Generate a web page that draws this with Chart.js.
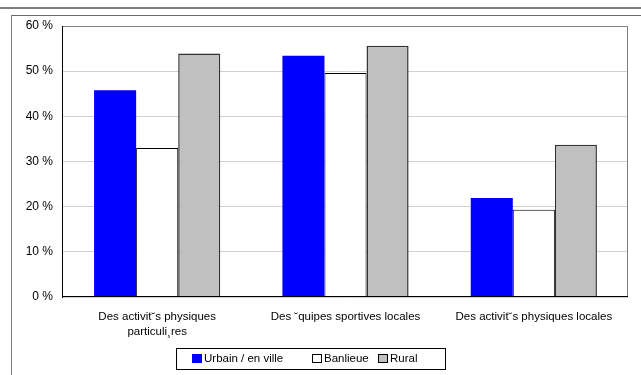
<!DOCTYPE html>
<html>
<head>
<meta charset="utf-8">
<script src="https://cdn.jsdelivr.net/npm/chart.js@4/dist/chart.umd.min.js"></script>
<style>
    body { margin: 0; background: #fff; }
    canvas { display: block; }
</style>
</head>
<body>
<canvas id="chart" width="641" height="375"></canvas>
<script>
const categories = [
    ['Des activit˘s physiques', 'particuli¸res'],
    'Des ˘quipes sportives locales',
    'Des activit˘s physiques locales'
];
const seriesNames = ['Urbain / en ville', 'Banlieue', 'Rural'];
const urbain = [45.8, 53.4, 21.9];
const banlieue = [33.0, 49.6, 19.3];
const rural = [53.9, 55.6, 33.7];
const yTicks = [0, 10, 20, 30, 40, 50, 60];

const FONT = '"Liberation Sans", Arial, sans-serif';
Chart.defaults.font.family = FONT;
Chart.defaults.font.size = 11.5;
Chart.defaults.color = '#000';

// page frame lines and plot box (top/right edges)
const framePlugin = {
    id: 'frame',
    beforeDraw(chart) {
        const c = chart.ctx;
        c.save();
        c.fillStyle = '#808080';
        c.fillRect(0, 7, chart.width, 2);
        c.fillStyle = '#6a6a6a';
        c.fillRect(11, 15, chart.width - 11, 1);
        c.fillStyle = '#808080';
        c.fillRect(11, 15, 1, chart.height - 15);
        c.restore();
    },
    afterDraw(chart) {
        const a = chart.chartArea;
        const c = chart.ctx;
        c.save();
        c.fillStyle = '#808080';
        c.fillRect(a.left, a.top, a.right - a.left, 1);
        c.fillRect(a.right - 1, a.top, 1, a.bottom - a.top);
        c.fillStyle = '#000';
        c.fillRect(a.left - 1, a.top, 1, a.bottom - a.top + 1);
        c.fillRect(a.left - 1, a.bottom - 1, a.right - a.left + 1, 1);
        c.restore();
    }
};

// boxed legend under the axis labels
const boxLegend = {
    id: 'boxLegend',
    afterDraw(chart) {
        const c = chart.ctx;
        const box = { x: 176, y: 348, w: 269, h: 21 };
        const offsets = [16, 136, 202];
        c.save();
        c.strokeStyle = '#000';
        c.lineWidth = 1;
        c.strokeRect(box.x + 0.5, box.y + 0.5, box.w, box.h);
        c.font = '11.5px ' + FONT;
        c.textBaseline = 'middle';
        chart.data.datasets.forEach((ds, i) => {
            const x = box.x + offsets[i];
            const y = box.y + 6;
            c.fillStyle = ds.backgroundColor;
            c.fillRect(x, y, 10, 9);
            if (ds.borderWidth) {
                c.strokeStyle = '#000';
                c.strokeRect(x + 0.5, y + 0.5, 9, 8);
            }
            c.fillStyle = '#000';
            c.fillText(ds.label, x + 12, box.y + 11);
        });
        c.restore();
    }
};

new Chart(document.getElementById('chart'), {
    type: 'bar',
    data: {
        labels: categories,
        datasets: [
            { label: seriesNames[0], data: urbain, backgroundColor: '#0000ff', borderWidth: 0 },
            { label: seriesNames[1], data: banlieue, backgroundColor: '#ffffff', borderColor: '#000', borderWidth: 1 },
            { label: seriesNames[2], data: rural, backgroundColor: '#c0c0c0', borderColor: '#333', borderWidth: 1.5 }
        ]
    },
    options: {
        responsive: false,
        animation: false,
        layout: { padding: { top: 26, right: 13, left: 0, bottom: 0 } },
        datasets: { bar: { categoryPercentage: 0.67, barPercentage: 1 } },
        scales: {
            x: {
                grid: { display: false, drawTicks: false },
                border: { display: false },
                ticks: { maxRotation: 0, autoSkip: false, padding: 13, font: { lineHeight: 1.25 } },
                afterFit(scale) { scale.height = 78; }
            },
            y: {
                min: 0,
                max: 60,
                afterBuildTicks(scale) { scale.ticks = yTicks.map(v => ({ value: v })); },
                grid: { color: '#d0d0d0', drawTicks: false },
                border: { display: false },
                ticks: { padding: 10, font: { size: 12 }, callback: v => v + ' %' },
                afterFit(scale) { scale.width = 63; }
            }
        },
        plugins: {
            legend: { display: false },
            tooltip: { enabled: false }
        }
    },
    plugins: [framePlugin, boxLegend]
});
</script>
</body>
</html>
